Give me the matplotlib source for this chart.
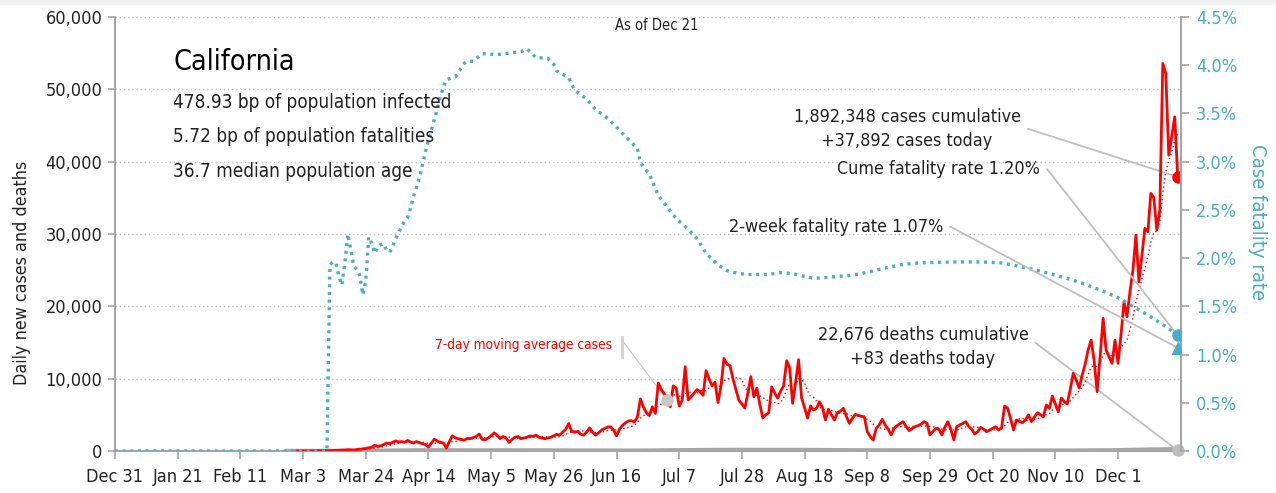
import pandas as pd
import matplotlib
matplotlib.use('Agg')
import matplotlib.pyplot as plt
from matplotlib.lines import Line2D
from matplotlib.patches import Rectangle

plt.rcParams['font.family'] = ['DejaVu Sans']
plt.rcParams['font.stretch'] = 'condensed'

# dati (California, fino al 21 dicembre)
start = pd.Timestamp('2019-12-31')
first_day = pd.Timestamp('2020-03-01')

# casi giornalieri dal 1 marzo, una riga per settimana
cases = [
    0, 0, 0, 0, 0, 10, 20,
    20, 30, 50, 40, 60, 70, 80,
    100, 120, 140, 180, 150, 130, 200,
    250, 300, 350, 450, 500, 800, 650,
    700, 900, 1100, 1000, 1200, 1400, 1250,
    1300, 1200, 1450, 1250, 1100, 1300, 1150,
    1000, 900, 550, 1100, 1650, 1350, 1200,
    1100, 400, 1300, 2100, 1800, 1700, 1600,
    1500, 1750, 1700, 1850, 2000, 2350, 1600,
    1550, 1800, 2100, 2500, 2200, 1700, 2000,
    1800, 1200, 1600, 1900, 2000, 1700, 1800,
    1900, 2100, 2000, 2200, 1900, 1800, 1700,
    1800, 1900, 2100, 2300, 2200, 2600, 3000,
    3800, 2700, 2600, 2700, 2300, 2200, 2600,
    3200, 2600, 2200, 2500, 2900, 3100, 3300,
    3350, 2900, 2100, 3000, 3550, 3900, 4150,
    4200, 4000, 4700, 7200, 6100, 5300, 4900,
    6100, 5200, 9400, 8500, 7900, 7000, 6100,
    9000, 8700, 6200, 7000, 11650, 7050, 7500,
    8000, 8500, 8200, 7700, 11100, 10000, 9000,
    9500, 6700, 9000, 12800, 12000, 11800, 10000,
    8500, 7000, 6500, 5940, 8000, 10270, 7500,
    8700, 6500, 4560, 5000, 5300, 8870, 8000,
    7300, 8300, 9000, 12480, 11500, 6590, 9500,
    12620, 7330, 6000, 4560, 6220, 5670, 5900,
    6810, 6000, 4280, 5760, 5000, 4280, 5300,
    5500, 5900, 4800, 3820, 4500, 5070, 4900,
    4800, 4740, 2670, 2000, 1520, 3130, 3600,
    4380, 3590, 3000, 2210, 3130, 3500, 3800,
    4050, 3400, 2810, 3100, 3360, 3500, 3700,
    4050, 3820, 2210, 2700, 3130, 3000, 2210,
    3300, 4050, 3000, 1520, 3360, 3600, 3800,
    4050, 3360, 3000, 2350, 2670, 3270, 3000,
    2670, 2900, 3130, 3360, 2900, 3200, 6220,
    5900, 4500, 2900, 4280, 4100, 3910, 4300,
    4980, 4050, 4700, 5300, 5000, 4740, 6360,
    5900, 7600, 6500, 5430, 7330, 6810, 6500,
    8500, 10740, 9800, 8700, 10500, 12000, 14000,
    15340, 12500, 8200, 13000, 18340, 13960, 13000,
    12120, 15340, 12120, 16000, 20640, 18560, 22000,
    25010, 29850, 23400, 27000, 30780, 30300, 35620,
    35000, 30540, 33300, 53580, 52200, 40900, 43500,
    46200, 37900,
]

# morti giornalieri (giorni dal 1 marzo, valore)
deaths_pts = [
    (-4, 0), (0, 0), (7, 1), (14, 5), (21, 15), (28, 40), (35, 60), (42, 80),
    (49, 90), (56, 70), (63, 75), (70, 80), (77, 70), (84, 70), (91, 60),
    (98, 60), (105, 50), (112, 40), (119, 60), (126, 90), (133, 110),
    (140, 130), (147, 150), (154, 140), (161, 130), (168, 140), (175, 120),
    (182, 100), (189, 90), (196, 80), (203, 90), (210, 70), (217, 60),
    (224, 55), (231, 50), (238, 45), (245, 50), (252, 50), (259, 50),
    (266, 70), (273, 90), (280, 150), (287, 200), (294, 230), (295, 83),
]

# tasso di letalità cumulato in % (giorni dal 1 marzo, valore)
cfr_pts = [
    (-61, 0), (10, 0), (11, 1.93), (12, 1.96), (13, 1.95), (14, 1.81),
    (15, 1.72), (16, 1.95), (17, 2.25), (18, 2.09), (19, 1.92), (20, 1.88),
    (21, 1.82), (22, 1.62), (23, 1.76), (24, 2.22), (25, 2.15), (26, 2.05),
    (27, 2.12), (28, 2.14), (29, 2.15), (30, 2.08), (31, 2.06), (32, 2.12),
    (33, 2.20), (34, 2.26), (35, 2.33), (36, 2.38), (37, 2.42), (38, 2.52),
    (39, 2.64), (41, 2.83), (42, 2.97), (43, 3.10), (44, 3.22), (45, 3.33),
    (47, 3.55), (48, 3.68), (49, 3.77), (50, 3.85), (53, 3.88), (56, 4.02),
    (57, 4.04), (59, 4.04), (62, 4.12), (67, 4.11), (75, 4.14), (77, 4.17),
    (80, 4.08), (84, 4.07), (86, 4.01), (87, 3.94), (91, 3.87), (93, 3.74),
    (97, 3.65), (100, 3.54), (104, 3.45), (107, 3.36), (110, 3.26),
    (114, 3.14), (115, 2.99), (118, 2.87), (121, 2.65), (124, 2.53),
    (127, 2.41), (131, 2.30), (134, 2.20), (137, 2.05), (141, 1.93),
    (144, 1.87), (148, 1.84), (151, 1.83), (155, 1.83), (158, 1.83),
    (162, 1.85), (166, 1.84), (170, 1.81), (173, 1.79), (178, 1.80),
    (181, 1.81), (185, 1.82), (189, 1.84), (192, 1.86), (196, 1.89),
    (202, 1.93), (208, 1.95), (219, 1.96), (230, 1.96), (236, 1.95),
    (241, 1.92), (247, 1.88), (252, 1.84), (258, 1.79), (263, 1.74),
    (269, 1.67), (275, 1.59), (280, 1.50), (286, 1.39), (291, 1.29),
    (295, 1.20),
]

cume_cfr = 1.20
two_week_cfr = 1.07
ma_marker_day = 124

tick_labels = ['Dec 31', 'Jan 21', 'Feb 11', 'Mar 3', 'Mar 24', 'Apr 14', 'May 5',
               'May 26', 'Jun 16', 'Jul 7', 'Jul 28', 'Aug 18', 'Sep 8', 'Sep 29',
               'Oct 20', 'Nov 10', 'Dec 1']

RED = '#FF0000'
TEAL = '#4BACC6'
GRAY = '#A6A6A6'
LEAD = '#BFBFBF'
TXT = '#222222'

case_dates = pd.date_range(first_day, periods=len(cases), freq='D')
ma7 = pd.Series(cases, index=case_dates).rolling(7).mean()
d_dates = [first_day + pd.Timedelta(days=d) for d, v in deaths_pts]
d_vals = [v for d, v in deaths_pts]
c_dates = [first_day + pd.Timedelta(days=d) for d, v in cfr_pts]
c_vals = [v / 100 for d, v in cfr_pts]
last = case_dates[-1]

W, H = 1276, 493
fig = plt.figure(figsize=(W / 100, H / 100), dpi=100)
fig.patches.append(Rectangle((0, 1 - 4 / H), 1, 4 / H, transform=fig.transFigure,
                             color='#F0F0F0', zorder=0))
ax = fig.add_axes([115 / W, 1 - 451 / H, (1181 - 115) / W, (451 - 17) / H])
ax2 = ax.twinx()

# serie principali
ax.plot(case_dates, cases, color=RED, lw=2.0, zorder=4)
ax.plot(case_dates, ma7, color=RED, lw=1.0, ls=(0, (1, 2)), zorder=5)
ax.plot(d_dates, d_vals, color=GRAY, lw=3.2, zorder=3, solid_capstyle='butt')
ax2.plot(c_dates, c_vals, color=TEAL, lw=2.4, ls=(0, (0.9, 1.4)), zorder=3)

# marcatori finali
ax.plot([last], [cases[-1]], 'o', color=RED, ms=8, zorder=6)
ax.plot([last], [d_vals[-1]], 'o', color='#BDBDBD', ms=8, zorder=6, clip_on=False)
ma_date = case_dates[ma_marker_day]
ax.plot([ma_date], [ma7[ma_date]], 'o', color='#C8C8C8', ms=8, zorder=6)
ax2.plot([last], [cume_cfr / 100], 'o', color=TEAL, ms=8, zorder=6)
ax2.plot([last], [two_week_cfr / 100], '^', color=TEAL, ms=9, zorder=6)

# assi
ax.set_xlim(start, start + pd.Timedelta(days=357.1))
ax.set_ylim(0, 60000)
ax2.set_ylim(0, 0.045)
tick_dates = [start + pd.Timedelta(days=21 * k) for k in range(len(tick_labels))]
ax.set_xticks(tick_dates)
ax.set_xticklabels(tick_labels)
ax.set_yticks(range(0, 60001, 10000))
ax.set_yticklabels([f'{v:,}' for v in range(0, 60001, 10000)])
ax2.set_yticks([i * 0.005 for i in range(10)])
ax2.set_yticklabels([f'{i * 0.5:.1f}%' for i in range(10)])

ax.yaxis.grid(True, color='#BFBFBF', lw=1, ls=(0, (1, 2)))
ax.set_axisbelow(True)
for s in ['top', 'right']:
    ax.spines[s].set_visible(False)
for s in ['top', 'left', 'bottom']:
    ax2.spines[s].set_visible(False)
for sp in [ax.spines['left'], ax.spines['bottom'], ax2.spines['right']]:
    sp.set_color(GRAY)
    sp.set_linewidth(1.5)

ax.tick_params(axis='x', length=6, width=1.2, color=GRAY, labelsize=13, labelcolor=TXT, pad=6)
ax.tick_params(axis='y', length=5, width=1.2, color=GRAY, labelsize=13, labelcolor=TXT, pad=4)
ax2.tick_params(axis='y', length=6, width=1.2, color=GRAY, labelsize=13, labelcolor=TEAL, pad=5)


def fpx(x, y):
    return (x, H - y)


fig.text(22 / W, 1 - 273 / H, 'Daily new cases and deaths', rotation=90,
         ha='center', va='center', fontsize=12.8, color=TXT)
fig.text(1258 / W, 1 - 222 / H, 'Case fatality rate', rotation=270,
         ha='center', va='center', fontsize=14.5, color=TEAL)
fig.text(657 / W, 1 - 25 / H, 'As of Dec 21', ha='center', va='center', fontsize=10.5, color=TXT)

fig.text(173 / W, 1 - 62 / H, 'California', ha='left', va='center', fontsize=20.5, color='black')
info = ['478.93 bp of population infected', '5.72 bp of population fatalities',
        '36.7 median population age']
for k, t in enumerate(info):
    fig.text(173 / W, 1 - (102 + 35 * k) / H, t, ha='left', va='center', fontsize=13.6, color=TXT)

lead = dict(arrowstyle='-', color=LEAD, lw=1.3, shrinkA=3, shrinkB=0)
fs_note = 12.9

ax.annotate('1,892,348 cases cumulative\n+37,892 cases today', xy=(last, cases[-1]),
            xytext=fpx(907, 129), textcoords='figure pixels', ha='center', va='center',
            fontsize=fs_note, color=TXT, linespacing=1.4,
            arrowprops=dict(lead, relpos=(1, 0.5),
                            connectionstyle='arc,angleA=0,armA=8,angleB=0,armB=0,rad=0'))
ax2.annotate('Cume fatality rate 1.20%', xy=(last, cume_cfr / 100),
             xytext=fpx(1040, 169), textcoords='figure pixels', ha='right', va='center',
             fontsize=fs_note, color=TXT,
             arrowprops=dict(lead, relpos=(1, 0.5),
                             connectionstyle='arc,angleA=0,armA=7,angleB=0,armB=0,rad=0'))
ax2.annotate('2-week fatality rate 1.07%', xy=(last, two_week_cfr / 100),
             xytext=fpx(943, 227), textcoords='figure pixels', ha='right', va='center',
             fontsize=fs_note, color=TXT,
             arrowprops=dict(lead, relpos=(1, 0.5),
                             connectionstyle='arc,angleA=0,armA=8,angleB=0,armB=0,rad=0'))
ax.annotate('22,676 deaths cumulative\n+83 deaths today', xy=(last, d_vals[-1]),
            xytext=fpx(923, 347), textcoords='figure pixels', ha='center', va='center',
            fontsize=fs_note, color=TXT, linespacing=1.4, annotation_clip=False,
            arrowprops=dict(lead, relpos=(1, 0.6),
                            connectionstyle='arc,angleA=0,armA=7,angleB=0,armB=0,rad=0'))

# etichetta media mobile
fig.text(612 / W, 1 - 345 / H, '7-day moving average cases', ha='right', va='center',
         fontsize=9.8, color=RED)
fig.add_artist(Line2D([622 / W, 622 / W], [1 - 337 / H, 1 - 357 / H], color='#D0D0D0', lw=2))
ax.annotate('', xy=(ma_date, ma7[ma_date]), xytext=fpx(622, 340), textcoords='figure pixels',
            arrowprops=dict(arrowstyle='-', color='#C8C8C8', lw=0.9, shrinkA=0, shrinkB=0))

fig.savefig('out.png', dpi=100)
